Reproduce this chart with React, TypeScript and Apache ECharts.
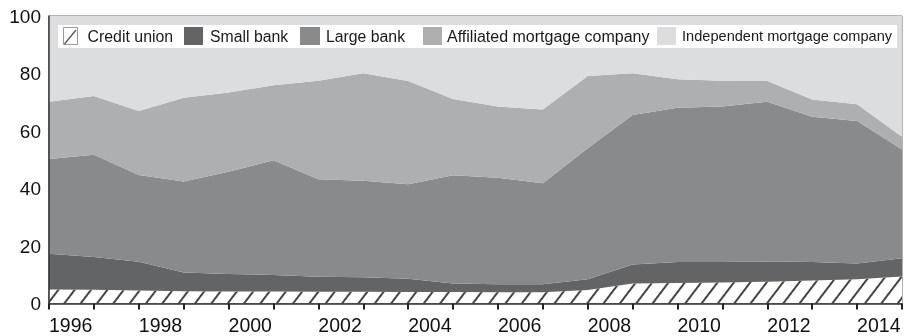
import React, { useEffect, useRef } from "react";
import * as echarts from "echarts";

const years = ["1996", "1997", "1998", "1999", "2000", "2001", "2002", "2003", "2004", "2005", "2006", "2007", "2008", "2009", "2010", "2011", "2012", "2013", "2014", "2015"];
const creditUnion = [4.9, 4.8, 4.5, 4.3, 4.2, 4.2, 4.1, 4.1, 4.0, 4.0, 3.9, 3.9, 4.7, 7.0, 7.1, 7.3, 7.6, 8.0, 8.4, 9.4];
const smallBank = [12.4, 11.4, 10.0, 6.5, 6.1, 5.7, 5.2, 5.0, 4.6, 3.0, 2.8, 2.8, 3.7, 6.6, 7.3, 7.1, 7.0, 6.4, 5.5, 6.3];
const largeBank = [33.0, 35.5, 30.2, 31.6, 35.5, 39.9, 33.9, 33.6, 32.9, 37.6, 37.0, 35.1, 45.6, 52.0, 53.7, 54.1, 55.6, 50.6, 49.6, 37.9];
const affiliatedMortgage = [19.9, 20.5, 22.3, 29.2, 27.6, 26.1, 34.3, 37.4, 35.9, 26.5, 24.8, 25.7, 25.1, 14.5, 9.9, 9.0, 7.2, 6.0, 5.8, 4.4];
const independentMortgage = [29.8, 27.8, 33.0, 28.4, 26.6, 24.1, 22.5, 19.9, 22.6, 28.9, 31.5, 32.5, 20.9, 19.9, 22.0, 22.5, 22.6, 29.0, 30.7, 42.0];
const yTicks = [0, 20, 40, 60, 80, 100];

const FONT = "'Liberation Sans', Arial, Helvetica, sans-serif";

const hatch = {
  symbol: "rect",
  symbolSize: 1,
  dashArrayX: [1, 0],
  dashArrayY: [1.2, 10.5],
  rotation: -0.92,
  color: "#444444",
};

export default function App() {
  const ref = useRef<HTMLDivElement>(null);
  useEffect(() => {
    if (!ref.current) return;
    const chart = echarts.init(ref.current, null, { renderer: "svg" });
    const mk = (name: string, data: number[], color: string) => ({
      name,
      type: "line",
      stack: "total",
      data,
      symbol: "none",
      lineStyle: { width: 0 },
      areaStyle: { color, opacity: 1 },
      itemStyle: { color },
      emphasis: { disabled: true },
      z: 2,
    });
    const legendItem = (name: string, left: number, w: number, fontSize: number, pad: number, extra: any = {}) => ({
      left,
      top: 27,
      padding: 0,
      icon: "rect",
      itemWidth: w,
      itemHeight: 18,
      selectedMode: false,
      data: [{ name, icon: "rect", textStyle: { fontSize, padding: [0, 0, 0, pad] } }],
      textStyle: { color: "#1a1a1a", fontFamily: FONT, fontSize },
      z: 5,
      ...extra,
    });
    chart.setOption({
      animation: false,
      grid: { left: 49, right: 5, top: 16, bottom: 32.5, show: true, borderColor: "#666", borderWidth: 1 },
      legend: [
        legendItem("Credit union", 63, 14, 15.9, 5, {
          itemHeight: 17,
          itemStyle: { borderColor: "#999", borderWidth: 1, decal: "none" },
        }),
        legendItem("Small bank", 184, 19, 15.8, 2),
        legendItem("Large bank", 300, 20, 15.8, 1),
        legendItem("Affiliated mortgage company", 423, 19, 16, 0),
        legendItem("Independent mortgage company", 657, 19, 14.6, 1),
      ],
      graphic: [
        { type: "rect", shape: { x: 58, y: 25, width: 839, height: 23 }, style: { fill: "#ffffff" }, z: 4, silent: true },
        { type: "line", shape: { x1: 64.5, y1: 44, x2: 76, y2: 30 }, style: { stroke: "#555", lineWidth: 1.3 }, z: 7, silent: true },
      ],
      xAxis: {
        type: "category",
        data: years,
        boundaryGap: false,
        axisLine: { show: true, lineStyle: { color: "#333", width: 1.5 } },
        axisTick: { show: true, interval: 0, length: 6, inside: false, lineStyle: { color: "#222", width: 2 } },
        axisLabel: { interval: 1, align: "left", margin: 11, fontSize: 19.5, color: "#111", fontFamily: FONT },
        splitLine: { show: false },
        z: 6,
      },
      yAxis: {
        type: "value",
        min: yTicks[0],
        max: yTicks[yTicks.length - 1],
        interval: 20,
        axisLine: { show: true, lineStyle: { color: "#333", width: 1.5 } },
        axisTick: { show: false },
        axisLabel: { margin: 8, fontSize: 19, color: "#111", fontFamily: FONT },
        splitLine: { show: false },
        z: 6,
      },
      series: [
        {
          ...mk("Credit union", creditUnion, "#ffffff"),
          itemStyle: { color: "#ffffff", decal: hatch },
        },
        mk("Small bank", smallBank, "#636466"),
        mk("Large bank", largeBank, "#898a8c"),
        mk("Affiliated mortgage company", affiliatedMortgage, "#aeafb1"),
        mk("Independent mortgage company", independentMortgage, "#dcdddf"),
      ],
    });
    return () => chart.dispose();
  }, []);
  return <div ref={ref} style={{ position: "fixed", left: 0, top: 0, width: 907, height: 336 }} />;
}
